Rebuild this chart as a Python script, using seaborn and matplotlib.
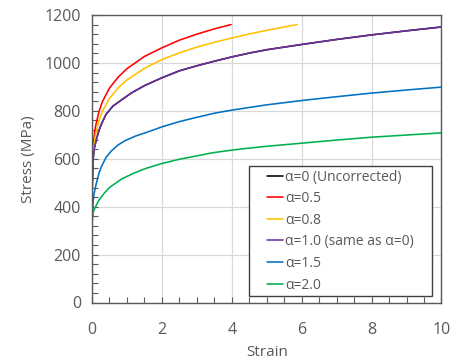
import numpy as np
import pandas as pd
import matplotlib
matplotlib.use("Agg")
import matplotlib.pyplot as plt
from matplotlib.lines import Line2D
from matplotlib.patches import Rectangle
from matplotlib.ticker import MultipleLocator
import seaborn as sns

# ---- data ----
labels = ["α=0 (Uncorrected)", "α=0.5", "α=0.8", "α=1.0 (same as α=0)", "α=1.5", "α=2.0"]
colors = ["#000000", "#FF0000", "#FFC000", "#7030A0", "#0070C0", "#00B050"]

purple_x = [0, 0.005, 0.03, 0.06, 0.12, 0.2, 0.27, 0.4, 0.6, 0.84, 1.12, 1.5, 2, 2.5, 3, 3.5, 4, 4.5, 5, 6, 7, 8, 9, 10]
purple_y = [0, 470, 595, 640, 678, 718, 745, 785, 820, 845, 874, 905, 938, 967, 988, 1007, 1025, 1041, 1055, 1077, 1098, 1117, 1134, 1150]

black_x = list(purple_x)
black_y = list(purple_y)

red_x = [0, 0.005, 0.02, 0.05, 0.1, 0.2, 0.3, 0.5, 0.75, 1.0, 1.5, 2, 2.5, 3, 3.5, 3.98]
red_y = [0, 560, 625, 680, 735, 797, 839, 895, 941, 976, 1027, 1063, 1095, 1120, 1142, 1160]

yellow_x = [0, 0.005, 0.02, 0.05, 0.1, 0.2, 0.3, 0.5, 0.75, 1.0, 1.5, 2, 2.5, 3, 3.5, 4, 4.5, 5, 5.5, 5.87]
yellow_y = [0, 520, 590, 645, 700, 760, 799, 852, 896, 929, 977, 1014, 1042, 1066, 1086, 1104, 1121, 1136, 1150, 1160]

blue_x = [0, 0.004, 0.03, 0.06, 0.12, 0.2, 0.27, 0.4, 0.55, 0.75, 0.94, 1.25, 1.6, 2, 2.5, 3, 3.5, 4, 4.5, 5, 6, 7, 8, 9, 10]
blue_y = [0, 330, 420, 455, 495, 540, 567, 605, 632, 658, 675, 695, 712, 733, 755, 773, 790, 803, 814, 825, 843, 859, 874, 887, 899]

green_x = [0, 0.005, 0.03, 0.07, 0.12, 0.2, 0.36, 0.5, 0.84, 1.2, 1.545, 2, 2.5, 3, 3.45, 4, 4.41, 5, 6, 7, 8, 9, 10]
green_y = [0, 340, 375, 390, 405, 428, 458, 480, 515, 540, 560, 580, 598, 612, 625, 636, 643, 652, 665, 678, 690, 699, 708]

series_x = [black_x, red_x, yellow_x, purple_x, blue_x, green_x]
series_y = [black_y, red_y, yellow_y, purple_y, blue_y, green_y]

xticks = [0, 2, 4, 6, 8, 10]
yticks = [0, 200, 400, 600, 800, 1000, 1200]

frames = []
for lab, xs, ys in zip(labels, series_x, series_y):
    frames.append(pd.DataFrame({"Strain": xs, "Stress": ys, "series": lab}))
df = pd.concat(frames, ignore_index=True)

# ---- style ----
sns.set_style("white")
plt.rcParams["font.family"] = ["Open Sans", "DejaVu Sans"]
txt = "#595959"

fig = plt.figure(figsize=(4.52, 3.64), dpi=100)
ax = fig.add_axes([92 / 452, 1 - 302.5 / 364, 349.5 / 452, 287.5 / 364])

palette = dict(zip(labels, colors))
sns.lineplot(data=df, x="Strain", y="Stress", hue="series", palette=palette,
             hue_order=labels, sort=False, estimator=None, units="series",
             linewidth=1.15, ax=ax, legend=False)

ax.set_xlim(0, 10)
ax.set_ylim(0, 1200)
ax.set_xticks(xticks)
ax.set_yticks(yticks)
ax.set_xticklabels([str(t) for t in xticks])
ax.set_yticklabels([str(t) for t in yticks])
ax.xaxis.set_minor_locator(MultipleLocator(0.5))
ax.yaxis.set_minor_locator(MultipleLocator(40))
ax.grid(True, which="major", color="#D9D9D9", linewidth=0.9)
ax.set_axisbelow(True)
ax.tick_params(which="both", direction="in", length=4, width=0.8, color=txt,
               labelsize=11.5, labelcolor=txt, top=False, right=False,
               left=True, bottom=True)
ax.tick_params(axis="x", pad=14)
ax.tick_params(axis="y", pad=8)
for s in ax.spines.values():
    s.set_color(txt)
    s.set_linewidth(1.0)

ax.set_xlabel("Strain", fontsize=11, color=txt, labelpad=5)
ax.set_ylabel("Stress (MPa)", fontsize=11, color=txt, labelpad=6)

# legend box
ax.add_patch(Rectangle((0.449, 0.0226), 0.524, 0.4522, transform=ax.transAxes,
                       facecolor="white", edgecolor="#404040", linewidth=1.0,
                       zorder=4.5, clip_on=False))
handles = [Line2D([0], [0], color=c, linewidth=1.15) for c in colors]
leg = ax.legend(handles, labels, loc="upper left", bbox_to_anchor=(0.4999, 0.4625),
                borderaxespad=0, borderpad=0, fontsize=10, labelcolor=txt,
                frameon=False, handlelength=1.15, handletextpad=0.15,
                labelspacing=0.475)
leg.set_zorder(5)

fig.savefig("out.png", dpi=100)
